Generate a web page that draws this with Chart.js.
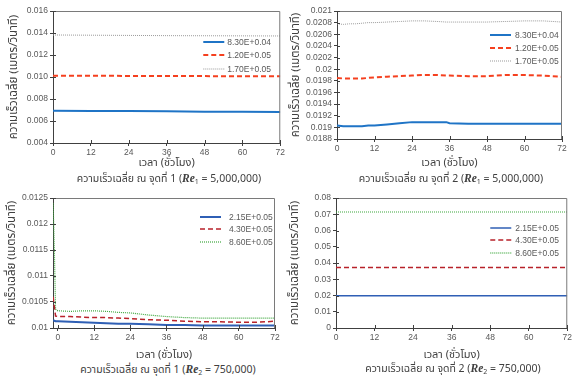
<!DOCTYPE html>
<html>
<head>
<meta charset="utf-8">
<script src="https://cdn.jsdelivr.net/npm/chart.js@4/dist/chart.umd.min.js"></script>
<style>
  body { margin: 0; background: #fff; }
  #wrap { position: relative; width: 574px; height: 381px; overflow: hidden; }
  .panel { position: absolute; }
  .caption {
    position: absolute;
    transform: translateX(-50%);
    white-space: nowrap;
    font-family: 'Noto Sans Thai', Tahoma, 'DejaVu Sans', sans-serif;
    font-size: 10.5px;
    line-height: 14px;
    color: #404040;
  }
  .caption i { font-family: 'Liberation Serif', 'DejaVu Serif', serif; font-weight: bold; font-size: 11.5px; }
  .caption sub { font-size: 7px; vertical-align: -2px; }
</style>
</head>
<body>
<div id="wrap">
  <canvas id="c1" class="panel" style="left:0;top:0"></canvas>
  <canvas id="c2" class="panel" style="left:284px;top:0"></canvas>
  <canvas id="c3" class="panel" style="left:0;top:185px"></canvas>
  <canvas id="c4" class="panel" style="left:284px;top:185px"></canvas>
  <div class="caption" style="left:169px;top:171px">ความเร็วเฉลี่ย ณ จุดที่ 1 (<i>Re</i><sub>1</sub> = 5,000,000)</div>
  <div class="caption" style="left:451px;top:171px">ความเร็วเฉลี่ย ณ จุดที่ 2 (<i>Re</i><sub>1</sub> = 5,000,000)</div>
  <div class="caption" style="left:168px;top:362px">ความเร็วเฉลี่ย ณ จุดที่ 1 (<i>Re</i><sub>2</sub> = 750,000)</div>
  <div class="caption" style="left:453px;top:361px">ความเร็วเฉลี่ย ณ จุดที่ 2 (<i>Re</i><sub>2</sub> = 750,000)</div>
</div>
<script>
// series names
const namesRe1 = ["8.30E+0.04", "1.20E+0.05", "1.70E+0.05"];
const namesRe2 = ["2.15E+0.05", "4.30E+0.05", "8.60E+0.05"];
const xTickHours = [0, 12, 24, 36, 48, 60, 72];

// point 1, Re1
const hoursP1Re1 = [0, 12, 24, 36, 48, 60, 72];
const p1Re1_a = [0.00693, 0.00691, 0.00690, 0.00688, 0.00685, 0.00683, 0.00681];
const p1Re1_b = [0.01012, 0.01011, 0.01010, 0.01009, 0.01008, 0.01007, 0.01006];
const p1Re1_c = [0.01382, 0.01380, 0.01378, 0.01376, 0.01375, 0.01374, 0.01373];

// point 2, Re1
const hoursP2Re1 = [0, 2, 4, 6, 8, 10, 12, 16, 20, 24, 28, 32, 35, 36, 42, 48, 54, 60, 66, 72];
const p2Re1_a = [0.01903, 0.01902, 0.01902, 0.01902, 0.01902, 0.01903, 0.01903, 0.01905, 0.01907, 0.01909, 0.01909, 0.01909, 0.01909, 0.01907, 0.01906, 0.01906, 0.01906, 0.01906, 0.01906, 0.01906];
const p2Re1_b = [0.01985, 0.01984, 0.01984, 0.01984, 0.01984, 0.01985, 0.01986, 0.01987, 0.01988, 0.01989, 0.01990, 0.01990, 0.01989, 0.01989, 0.01988, 0.01988, 0.01990, 0.01990, 0.01989, 0.01987];
const p2Re1_c = [0.02078, 0.02077, 0.02078, 0.02078, 0.02079, 0.02080, 0.02080, 0.02081, 0.02082, 0.02083, 0.02083, 0.02082, 0.02081, 0.02081, 0.02081, 0.02081, 0.02082, 0.02083, 0.02083, 0.02081];

// point 1, Re2
const hoursP1Re2 = [-1.6, -1.2, -0.8, 0, 4, 8, 12, 16, 20, 24, 30, 36, 42, 48, 54, 60, 66, 72];
const p1Re2_a = [0.01015, 0.01014, 0.01013, 0.01013, 0.01012, 0.01011, 0.01010, 0.01009, 0.01008, 0.01008, 0.01007, 0.01006, 0.01006, 0.01005, 0.01005, 0.01005, 0.01005, 0.01005];
const p1Re2_b = [0.01060, 0.01040, 0.01023, 0.01022, 0.01022, 0.01021, 0.01020, 0.01020, 0.01019, 0.01018, 0.01016, 0.01015, 0.01013, 0.01012, 0.01012, 0.01011, 0.01011, 0.01013];
const p1Re2_c = [0.01240, 0.01150, 0.01036, 0.01033, 0.01032, 0.01033, 0.01033, 0.01032, 0.01030, 0.01029, 0.01025, 0.01022, 0.01020, 0.01019, 0.01019, 0.01019, 0.01019, 0.01019];

// point 2, Re2
const hoursP2Re2 = [0, 12, 24, 36, 48, 60, 72];
const p2Re2_a = [0.0199, 0.0199, 0.0199, 0.0199, 0.0199, 0.0199, 0.0199];
const p2Re2_b = [0.0373, 0.0373, 0.0373, 0.0373, 0.0373, 0.0373, 0.0373];
const p2Re2_c = [0.0714, 0.0714, 0.0714, 0.0714, 0.0714, 0.0714, 0.0714];

const NUM_FONT = "'Liberation Sans', Arial, sans-serif";
const THAI_FONT = "'Noto Sans Thai', Tahoma, 'DejaVu Sans', sans-serif";
const TEXT = "#595959";
const AXIS = "#404040";

Chart.defaults.animation = false;
Chart.defaults.devicePixelRatio = 1;

function pts(xs, ys) {
  return xs.map((x, i) => ({ x: x, y: ys[i] }));
}

// frame on top/right + tick marks poking into the plot
const framePlugin = {
  id: "frame",
  afterDraw(chart) {
    const { ctx, chartArea: a, scales } = chart;
    ctx.save();
    ctx.lineWidth = 1;
    ctx.strokeStyle = "#7a7a7a";
    ctx.beginPath();
    ctx.moveTo(a.left, a.top + 0.5);
    ctx.lineTo(a.right - 0.5, a.top + 0.5);
    ctx.lineTo(a.right - 0.5, a.bottom);
    ctx.stroke();
    ctx.strokeStyle = AXIS;
    ctx.beginPath();
    scales.x.ticks.forEach(t => {
      const px = Math.round(scales.x.getPixelForValue(t.value)) + 0.5;
      ctx.moveTo(px, a.bottom);
      ctx.lineTo(px, a.bottom - 3);
    });
    scales.y.ticks.forEach(t => {
      const py = Math.round(scales.y.getPixelForValue(t.value)) + 0.5;
      ctx.moveTo(a.left, py);
      ctx.lineTo(a.left + 3, py);
    });
    ctx.stroke();
    ctx.restore();
  }
};

// legend drawn inside the plot, right side
const innerLegend = {
  id: "innerLegend",
  afterDatasetsDraw(chart, args, opts) {
    const { ctx, chartArea: a } = chart;
    ctx.save();
    ctx.font = "8.5px " + NUM_FONT;
    ctx.textBaseline = "middle";
    chart.data.datasets.forEach((ds, i) => {
      const y = a.top + opts.rows[i];
      const x0 = a.right - opts.lineFrom;
      ctx.strokeStyle = ds.borderColor;
      ctx.lineWidth = ds.borderWidth;
      ctx.setLineDash(ds.borderDash || []);
      ctx.beginPath();
      ctx.moveTo(x0, y);
      ctx.lineTo(x0 + 21, y);
      ctx.stroke();
      ctx.setLineDash([]);
      ctx.fillStyle = TEXT;
      ctx.fillText(ds.label, a.right - opts.textFrom, y + 0.5);
    });
    ctx.restore();
  }
};

function makeChart(id, size, cfg) {
  const cv = document.getElementById(id);
  cv.width = size.w;
  cv.height = size.h;
  cv.style.width = size.w + "px";
  cv.style.height = size.h + "px";
  return new Chart(cv, {
    type: "line",
    data: { datasets: cfg.datasets },
    options: {
      responsive: false,
      layout: { padding: cfg.padding },
      elements: { point: { radius: 0 }, line: { tension: 0 } },
      plugins: {
        legend: { display: false },
        tooltip: { enabled: false },
        innerLegend: cfg.legend
      },
      scales: {
        x: {
          type: "linear",
          min: cfg.xMin,
          max: 72,
          afterBuildTicks: s => { s.ticks = xTickHours.map(v => ({ value: v })); },
          afterFit: s => { s.height = cfg.xHeight; },
          grid: { drawOnChartArea: false, tickLength: 3, color: AXIS },
          border: { color: AXIS },
          ticks: { color: TEXT, font: { family: NUM_FONT, size: 8.5 }, padding: 2, maxRotation: 0, autoSkip: false },
          title: { display: true, text: "เวลา (ชั่วโมง)", color: "#404040", font: { family: THAI_FONT, size: 11 }, padding: { top: 0, bottom: cfg.xTitlePad } }
        },
        y: {
          min: cfg.yMin,
          max: cfg.yMax,
          ticks: {
            stepSize: cfg.yStep,
            autoSkip: false,
            color: TEXT,
            font: { family: NUM_FONT, size: 8.5 },
            padding: 2,
            callback: cfg.yFormat
          },
          afterFit: s => { s.width = cfg.yWidth; },
          grid: { drawOnChartArea: false, tickLength: 3, color: AXIS },
          border: { color: AXIS },
          title: { display: true, text: "ความเร็วเฉลี่ย (เมตร/วินาที)", color: "#404040", font: { family: THAI_FONT, size: 11.5 }, padding: { top: cfg.yTitlePad, bottom: 0 } }
        }
      }
    },
    plugins: [framePlugin, innerLegend]
  });
}

const trim = v => String(parseFloat(Number(v).toFixed(5)));

makeChart("c1", { w: 287, h: 170 }, {
  padding: { left: 0, top: 11, right: 6, bottom: 0 },
  xMin: 0, xHeight: 27, xTitlePad: 0,
  yMin: 0.004, yMax: 0.016, yStep: 0.002, yWidth: 53, yTitlePad: 8,
  yFormat: v => Number(v).toFixed(3),
  legend: { lineFrom: 77, textFrom: 53, rows: [31, 44, 58] },
  datasets: [
    { label: namesRe1[0], data: pts(hoursP1Re1, p1Re1_a), borderColor: "#1f74c6", borderWidth: 2 },
    { label: namesRe1[1], data: pts(hoursP1Re1, p1Re1_b), borderColor: "#f5401f", borderWidth: 2, borderDash: [5, 3] },
    { label: namesRe1[2], data: pts(hoursP1Re1, p1Re1_c), borderColor: "#9a9a9a", borderWidth: 1, borderDash: [1, 1] }
  ]
});

makeChart("c2", { w: 290, h: 170 }, {
  padding: { left: 0, top: 11, right: 12, bottom: 0 },
  xMin: 0, xHeight: 31, xTitlePad: 0,
  yMin: 0.0188, yMax: 0.021, yStep: 0.0002, yWidth: 53, yTitlePad: 6,
  yFormat: trim,
  legend: { lineFrom: 72, textFrom: 47, rows: [24, 37, 50] },
  datasets: [
    { label: namesRe1[0], data: pts(hoursP2Re1, p2Re1_a), borderColor: "#1f74c6", borderWidth: 2 },
    { label: namesRe1[1], data: pts(hoursP2Re1, p2Re1_b), borderColor: "#f5401f", borderWidth: 2, borderDash: [5, 3] },
    { label: namesRe1[2], data: pts(hoursP2Re1, p2Re1_c), borderColor: "#9a9a9a", borderWidth: 1, borderDash: [1, 1] }
  ]
});

makeChart("c3", { w: 287, h: 177 }, {
  padding: { left: 0, top: 13, right: 12, bottom: 0 },
  xMin: -1.65, xHeight: 34, xTitlePad: 0,
  yMin: 0.01, yMax: 0.0125, yStep: 0.0005, yWidth: 53, yTitlePad: 6,
  yFormat: trim,
  legend: { lineFrom: 75, textFrom: 46, rows: [19, 31, 44] },
  datasets: [
    { label: namesRe2[0], data: pts(hoursP1Re2, p1Re2_a), borderColor: "#2f5fb5", borderWidth: 2 },
    { label: namesRe2[1], data: pts(hoursP1Re2, p1Re2_b), borderColor: "#b8222a", borderWidth: 1.5, borderDash: [5, 3] },
    { label: namesRe2[2], data: pts(hoursP1Re2, p1Re2_c), borderColor: "#3fa83f", borderWidth: 1.2, borderDash: [1, 1] }
  ]
});

makeChart("c4", { w: 290, h: 177 }, {
  padding: { left: 0, top: 13, right: 6, bottom: 0 },
  xMin: 0, xHeight: 34, xTitlePad: 0,
  yMin: 0, yMax: 0.08, yStep: 0.01, yWidth: 52, yTitlePad: 5,
  yFormat: trim,
  legend: { lineFrom: 77, textFrom: 52, rows: [30, 42, 55] },
  datasets: [
    { label: namesRe2[0], data: pts(hoursP2Re2, p2Re2_a), borderColor: "#2f5fb5", borderWidth: 1.5 },
    { label: namesRe2[1], data: pts(hoursP2Re2, p2Re2_b), borderColor: "#b8222a", borderWidth: 1.5, borderDash: [5, 3] },
    { label: namesRe2[2], data: pts(hoursP2Re2, p2Re2_c), borderColor: "#3fa83f", borderWidth: 1.2, borderDash: [1, 1] }
  ]
});
</script>
</body>
</html>
